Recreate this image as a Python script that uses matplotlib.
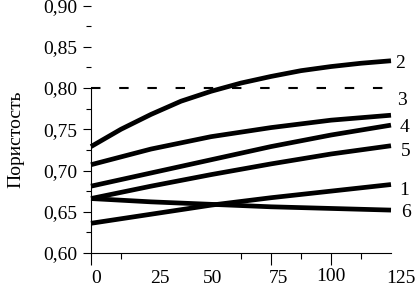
import matplotlib
matplotlib.use("Agg")
import matplotlib.pyplot as plt
import matplotlib.transforms as mtransforms

plt.rcParams['font.family'] = ['Liberation Serif', 'DejaVu Serif']
plt.rcParams['lines.scale_dashes'] = False

# ---- data ----
x_fine = [0, 12.5, 25, 37.5, 50, 62.5, 75, 87.5, 100, 112.5, 125]
curve_2 = [0.729, 0.750, 0.768, 0.784, 0.796, 0.806, 0.814, 0.821, 0.826, 0.830, 0.833]
x = [0, 25, 50, 75, 100, 125]
curve_3 = [0.707, 0.726, 0.741, 0.752, 0.761, 0.767]
curve_4 = [0.681, 0.697, 0.713, 0.729, 0.743, 0.755]
curve_5 = [0.666, 0.681, 0.695, 0.708, 0.720, 0.730]
curve_1 = [0.636, 0.647, 0.658, 0.667, 0.675, 0.683]
curve_6 = [0.666, 0.662, 0.659, 0.656, 0.654, 0.652]
ref_x = [0, 125]
ref_y = [0.80, 0.80]

series_labels = ['2', '3', '4', '5', '1', '6']
y_ticks = [0.60, 0.65, 0.70, 0.75, 0.80, 0.85, 0.90]
y_tick_labels = ['0,60', '0,65', '0,70', '0,75', '0,80', '0,85', '0,90']
y_minor = [0.625, 0.675, 0.725, 0.775, 0.825, 0.875]
x_tick_labels = ['0', '25', '50', '75', '100', '125']
y_label = 'Пористость'

# ---- layout ----
W, H = 418, 287
fig = plt.figure(figsize=(W / 100, H / 100), dpi=100)
ax = fig.add_axes([91 / W, 1 - 253 / H, 300 / W, 247.5 / H])
ax.set_xlim(0, 125)
ax.set_ylim(0.60, 0.90)

series = [(x_fine, curve_2), (x, curve_3), (x, curve_4), (x, curve_5),
          (x, curve_1), (x, curve_6)]
for xs, ys in series:
    ax.plot(xs, ys, color='black', lw=3.4, solid_capstyle='butt',
            solid_joinstyle='round', clip_on=False)

ax.plot(ref_x, ref_y, color='black', lw=1.5, dashes=(6.8, 13.5),
        dash_capstyle='butt', clip_on=False)

# right-side curve labels (offsets in pixels from curve end: right, down)
label_offsets = [(9, 3), (11, -15), (13, 2), (15, 5.5), (13, 5.5), (15, 2.5)]
for (xs, ys), lab, (dx, dy) in zip(series, series_labels, label_offsets):
    ax.annotate(lab, xy=(xs[-1], ys[-1]), xytext=(dx, -dy),
                textcoords='offset pixels', ha='center', va='center',
                fontsize=14, annotation_clip=False)

# spines
for s in ['top', 'right']:
    ax.spines[s].set_visible(False)
ax.spines['left'].set_bounds(0.60, 0.80)
ax.spines['left'].set_linewidth(0.8)
ax.spines['bottom'].set_linewidth(0.8)

# y ticks
ax.set_yticks(y_ticks)
ax.set_yticklabels(y_tick_labels, fontsize=14)
ax.set_yticks(y_minor, minor=True)
ax.tick_params(axis='y', which='major', length=6, width=0.8, pad=3.6)
ax.tick_params(axis='y', which='minor', length=3.6, width=0.8)

# x ticks
ax.set_xticks([0, 75, 100])
ax.set_xticks([12.5, 62.5, 87.5, 112.5], minor=True)
ax.tick_params(axis='x', which='major', length=8.6, width=0.8, labelbottom=False)
ax.tick_params(axis='x', which='minor', length=4.3, width=0.8)

trans = mtransforms.blended_transform_factory(ax.transData, ax.transAxes)
x_label_pos = [2, 28.75, 50.6, 78, 100, 129]
x_label_y = [-0.068, -0.068, -0.068, -0.068, -0.060, -0.068]
for lab, xp, yp in zip(x_tick_labels, x_label_pos, x_label_y):
    ax.text(xp, yp, lab, transform=trans, ha='center', va='top', fontsize=14)

fig.text(16 / W, 1 - 139 / H, y_label, rotation=90, ha='center', va='center',
         fontsize=14)

fig.savefig('out.png', dpi=100)
